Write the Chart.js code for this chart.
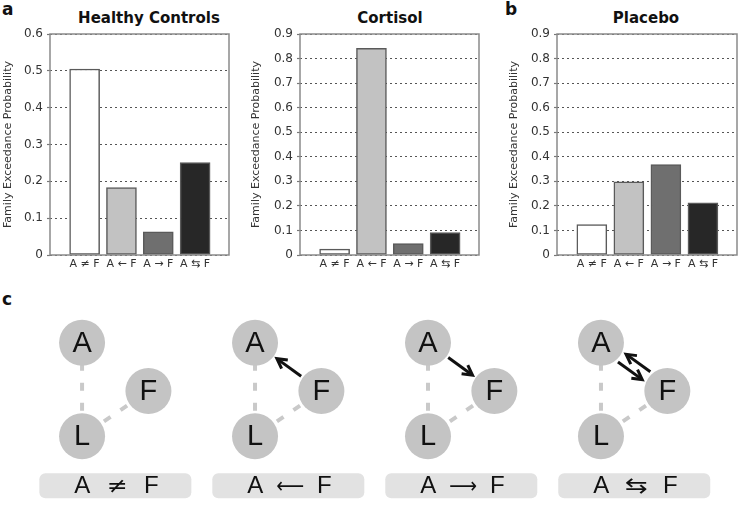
<!DOCTYPE html>
<html>
<head>
<meta charset="utf-8">
<script src="https://cdn.jsdelivr.net/npm/chart.js@4.4.1/dist/chart.umd.min.js"></script>
<style>
body{margin:0;background:#fff;width:739px;height:527px;position:relative;overflow:hidden}
canvas{position:absolute}
.tag{position:absolute;font:bold 17px 'DejaVu Sans',sans-serif;line-height:17px;color:#111}
.ttl{position:absolute;top:10px;font:bold 15px 'DejaVu Sans',sans-serif;line-height:16px;color:#111;text-align:center}
</style>
</head>
<body>
<div class="tag" style="left:2px;top:1px">a</div>
<div class="tag" style="left:505px;top:1px">b</div>
<div class="tag" style="left:2px;top:291px">c</div>
<div class="ttl" style="left:49px;width:200px">Healthy Controls</div>
<div class="ttl" style="left:290px;width:200px">Cortisol</div>
<div class="ttl" style="left:546px;width:200px">Placebo</div>
<canvas id="hc" width="245" height="280" style="left:0;top:0"></canvas>
<canvas id="co" width="245" height="280" style="left:245px;top:0"></canvas>
<canvas id="pl" width="249" height="280" style="left:490px;top:0"></canvas>
<canvas id="net" width="739" height="237" style="left:0;top:290px"></canvas>
<script>
// ---- bar data ----
const categories=['A ≠ F','A ← F','A → F','A ⇆ F'];
const healthyValues=[0.505,0.183,0.063,0.251];
const cortisolValues=[0.024,0.842,0.047,0.091];
const placeboValues=[0.124,0.298,0.368,0.212];
const barColors=['#ffffff','#c2c2c2','#6f6f6f','#272727'];

// ---- network diagrams (panel c) ----
const nodeNames=['A','F','L'];
const nodeX=[0,1.22,0];
const nodeY=[2,0.97,0];
const diagramLabels=[['A','≠','F'],['A','⟵','F'],['A','⟶','F'],['A','⇆','F']];
const diagramArrows=[[],[['F','A']],[['A','F']],[['A','F'],['F','A']]];
const diagramStep=3.18;

const frame={id:'frame',afterDatasetsDraw(chart){
  const {ctx,chartArea:a}=chart;
  ctx.save();
  ctx.strokeStyle='#8a8a8a';ctx.lineWidth=1.5;
  ctx.strokeRect(a.left,a.top,a.right-a.left,a.bottom-a.top);
  ctx.restore();
}};

function barChart(id,values,yMax,yWidth,padRight,titlePad){
  return new Chart(document.getElementById(id),{
    type:'bar',
    data:{datasets:[{
      data:values.map((v,i)=>({x:i,y:v})),
      backgroundColor:barColors,
      borderColor:'#5a5a5a',borderWidth:1.5,borderSkipped:false,
      barThickness:30
    }]},
    options:{
      responsive:false,animation:false,events:[],
      layout:{padding:{top:34,right:padRight,left:0,bottom:0}},
      plugins:{legend:{display:false},tooltip:{enabled:false}},
      scales:{
        x:{type:'linear',min:-0.94,max:3.92,offset:false,
          grid:{display:false,offset:false,drawTicks:false},border:{display:false},
          afterBuildTicks(s){s.ticks=categories.map((c,i)=>({value:i}));},
          ticks:{callback:v=>categories[v],autoSkip:false,maxRotation:0,padding:3,
            font:{family:'DejaVu Sans',size:11},color:'#333'},
          afterFit(s){s.height=25;}},
        y:{min:0,max:yMax,
          ticks:{stepSize:0.1,padding:4,font:{family:'DejaVu Sans',size:12},color:'#333'},
          grid:{color:'#555',lineWidth:1,drawTicks:true,tickLength:3,tickColor:'#777',tickWidth:1.2,tickBorderDash:[]},
          border:{display:false,dash:[2,3]},
          title:{display:true,text:'Family Exceedance Probability',color:'#333',
            font:{family:'DejaVu Sans',size:11,lineHeight:1.2},padding:{top:titlePad,bottom:0}},
          afterFit(s){s.width=yWidth;}}
      }
    },
    plugins:[frame]
  });
}

barChart('hc',healthyValues,0.6,50,16,2);
barChart('co',cortisolValues,0.9,55,11,5);
barChart('pl',placeboValues,0.9,67,2,18);

// ---- panel c ----
const nodePoints=[],edgeSets=[];
diagramLabels.forEach((lab,d)=>{
  nodeNames.forEach((n,k)=>nodePoints.push({x:nodeX[k]+d*diagramStep,y:nodeY[k],name:n}));
  edgeSets.push({
    data:[0,2,1].map(k=>({x:nodeX[k]+d*diagramStep,y:nodeY[k]})),
    showLine:true,borderColor:'#c9c9c9',borderWidth:4,borderDash:[8,12],
    pointRadius:0,order:1
  });
});

function drawArrow(ctx,x1,y1,x2,y2){
  const a=Math.atan2(y2-y1,x2-x1),h=11,w=0.5;
  ctx.beginPath();ctx.moveTo(x1,y1);ctx.lineTo(x2-Math.cos(a)*2,y2-Math.sin(a)*2);ctx.stroke();
  ctx.beginPath();
  ctx.moveTo(x2-h*Math.cos(a-w),y2-h*Math.sin(a-w));
  ctx.lineTo(x2,y2);
  ctx.lineTo(x2-h*Math.cos(a+w),y2-h*Math.sin(a+w));
  ctx.stroke();
}

const netDecor={id:'netDecor',afterDatasetsDraw(chart){
  const {ctx,scales:{x,y}}=chart;
  ctx.save();
  // node letters
  ctx.fillStyle='#111';ctx.textAlign='center';ctx.textBaseline='middle';
  ctx.font="29px 'Liberation Sans','DejaVu Sans',sans-serif";
  nodePoints.forEach(p=>ctx.fillText(p.name,x.getPixelForValue(p.x),y.getPixelForValue(p.y)+1));
  // arrows
  ctx.strokeStyle='#111';ctx.lineWidth=3;ctx.lineJoin='miter';ctx.lineCap='butt';
  diagramArrows.forEach((arr,d)=>{
    arr.forEach(([from,to])=>{
      const i=nodeNames.indexOf(from),j=nodeNames.indexOf(to);
      const x1=x.getPixelForValue(nodeX[i]+d*diagramStep),y1=y.getPixelForValue(nodeY[i]);
      const x2=x.getPixelForValue(nodeX[j]+d*diagramStep),y2=y.getPixelForValue(nodeY[j]);
      const len=Math.hypot(x2-x1,y2-y1),ux=(x2-x1)/len,uy=(y2-y1)/len;
      const off=arr.length>1?5.5:0;
      const ox=-uy*off,oy=ux*off;
      drawArrow(ctx,x1+ux*25+ox,y1+uy*25+oy,x2-ux*27+ox,y2-uy*27+oy);
    });
  });
  // label boxes
  const symW=[21,28,28,23];
  diagramLabels.forEach((lab,d)=>{
    const cx=x.getPixelForValue(d*diagramStep+0.612),cy=y.getPixelForValue(-1.06);
    ctx.fillStyle='#e2e2e2';
    ctx.beginPath();ctx.roundRect(cx-76,cy-12.5,152,25,6);ctx.fill();
    ctx.fillStyle='#111';
    ctx.font="24px 'Liberation Sans','DejaVu Sans',sans-serif";
    ctx.fillText(lab[0],cx-33,cy+1);
    ctx.fillText(lab[2],cx+36,cy+1);
    ctx.font="22px 'DejaVu Sans',sans-serif";
    const k=symW[d]/ctx.measureText(lab[1]).width;
    ctx.save();ctx.translate(cx+2,cy+1);ctx.scale(k,1);
    ctx.fillText(lab[1],0,0);
    ctx.restore();
  });
  ctx.restore();
}};

new Chart(document.getElementById('net'),{
  type:'scatter',
  data:{datasets:[
    {data:nodePoints,pointRadius:23,pointBackgroundColor:'#c4c4c4',pointBorderWidth:0,order:0},
    ...edgeSets
  ]},
  options:{
    responsive:false,animation:false,events:[],
    layout:{padding:0},
    plugins:{legend:{display:false},tooltip:{enabled:false}},
    scales:{
      x:{type:'linear',display:false,min:-1.086,max:11.655},
      y:{type:'linear',display:false,min:-1.448,max:2.638}
    }
  },
  plugins:[netDecor]
});
</script>
</body>
</html>
